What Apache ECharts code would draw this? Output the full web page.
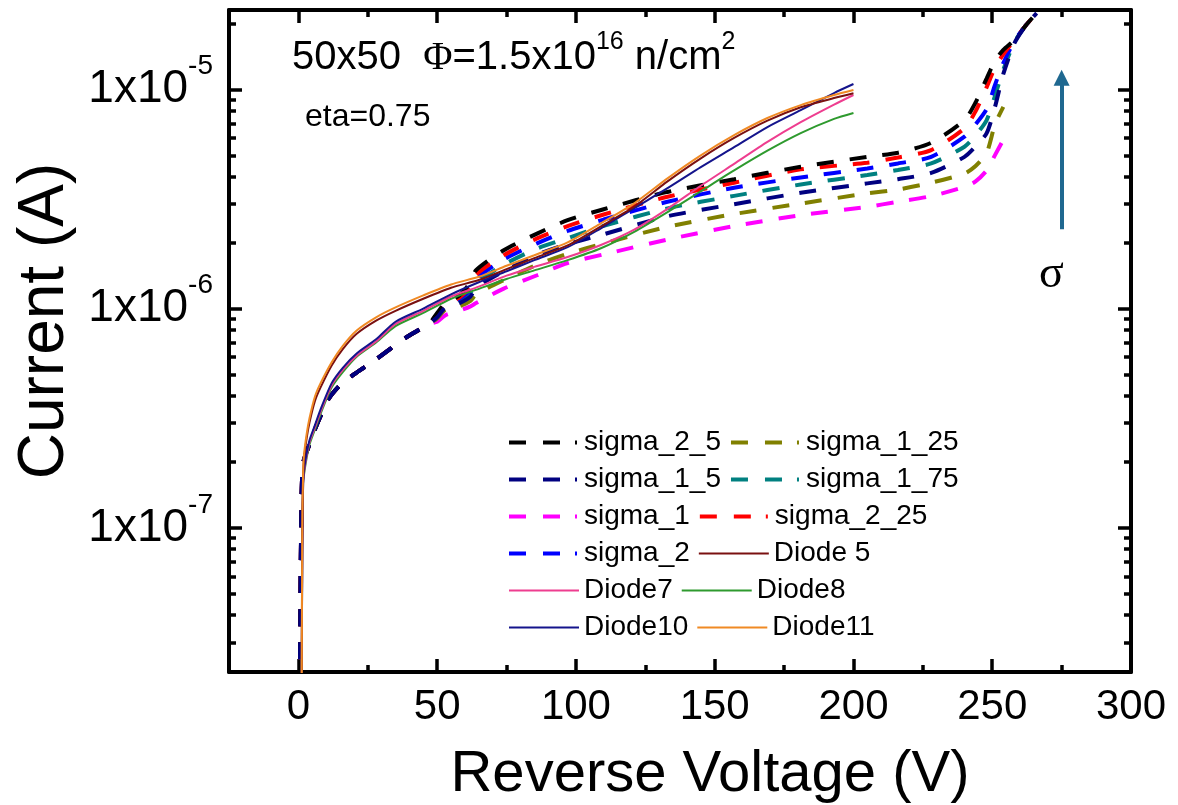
<!DOCTYPE html>
<html>
<head>
<meta charset="utf-8">
<script src="https://cdn.jsdelivr.net/npm/echarts@6/dist/echarts.min.js"></script>
<style>
  html, body { margin: 0; padding: 0; background: #fff; }
  #chart { width: 1178px; height: 805px; }
</style>
</head>
<body>
<div id="chart"></div>
<script>
// voltage grid (V) shared by the simulated sigma curves
const sigmaVoltage = [0.5, 1, 1.5, 2.5, 4, 6, 8, 11, 15, 20, 27, 39, 47, 50, 53, 58, 62, 64, 74, 86, 97, 110, 133, 157, 181, 205, 216, 228, 240, 244, 248, 251, 254, 258, 262, 266];
const sigma_2_5  = [1.78e-8, 1.0e-7, 1.91e-7, 2.14e-7, 2.40e-7, 2.82e-7, 3.24e-7, 3.89e-7, 4.47e-7, 5.01e-7, 5.75e-7, 7.41e-7, 8.51e-7, 9.55e-7, 1.059e-6, 1.148e-6, 1.318e-6, 1.496e-6, 1.845e-6, 2.198e-6, 2.529e-6, 2.838e-6, 3.404e-6, 3.890e-6, 4.436e-6, 4.920e-6, 5.140e-6, 5.702e-6, 7.244e-6, 8.710e-6, 1.122e-5, 1.349e-5, 1.514e-5, 1.679e-5, 1.950e-5, 2.228e-5];
const sigma_2_25 = [1.78e-8, 1.0e-7, 1.91e-7, 2.14e-7, 2.40e-7, 2.82e-7, 3.24e-7, 3.89e-7, 4.47e-7, 5.01e-7, 5.75e-7, 7.41e-7, 8.51e-7, 9.44e-7, 1.047e-6, 1.122e-6, 1.259e-6, 1.429e-6, 1.750e-6, 2.089e-6, 2.377e-6, 2.685e-6, 3.236e-6, 3.750e-6, 4.315e-6, 4.624e-6, 4.887e-6, 5.284e-6, 6.637e-6, 7.943e-6, 1.023e-5, 1.259e-5, 1.445e-5, 1.679e-5, 1.950e-5, 2.228e-5];
const sigma_2    = [1.78e-8, 1.0e-7, 1.91e-7, 2.14e-7, 2.40e-7, 2.82e-7, 3.24e-7, 3.89e-7, 4.47e-7, 5.01e-7, 5.75e-7, 7.41e-7, 8.51e-7, 9.33e-7, 1.035e-6, 1.109e-6, 1.216e-6, 1.365e-6, 1.675e-6, 1.982e-6, 2.259e-6, 2.547e-6, 3.069e-6, 3.556e-6, 3.963e-6, 4.355e-6, 4.592e-6, 4.920e-6, 6.081e-6, 6.918e-6, 8.128e-6, 1.047e-5, 1.318e-5, 1.660e-5, 1.950e-5, 2.228e-5];
const sigma_1_75 = [1.78e-8, 1.0e-7, 1.91e-7, 2.14e-7, 2.40e-7, 2.82e-7, 3.24e-7, 3.89e-7, 4.47e-7, 5.01e-7, 5.75e-7, 7.41e-7, 8.51e-7, 9.23e-7, 1.023e-6, 1.084e-6, 1.175e-6, 1.303e-6, 1.585e-6, 1.879e-6, 2.094e-6, 2.382e-6, 2.864e-6, 3.266e-6, 3.681e-6, 4.064e-6, 4.285e-6, 4.592e-6, 5.470e-6, 6.166e-6, 7.244e-6, 9.333e-6, 1.230e-5, 1.641e-5, 1.950e-5, 2.228e-5];
const sigma_1_5  = [1.78e-8, 1.0e-7, 1.91e-7, 2.14e-7, 2.40e-7, 2.82e-7, 3.24e-7, 3.89e-7, 4.47e-7, 5.01e-7, 5.75e-7, 7.41e-7, 8.51e-7, 9.12e-7, 1.012e-6, 1.059e-6, 1.135e-6, 1.245e-6, 1.479e-6, 1.758e-6, 1.968e-6, 2.183e-6, 2.636e-6, 2.992e-6, 3.373e-6, 3.724e-6, 3.890e-6, 4.159e-6, 4.920e-6, 5.495e-6, 6.310e-6, 8.318e-6, 1.175e-5, 1.622e-5, 1.950e-5, 2.228e-5];
const sigma_1_25 = [1.78e-8, 1.0e-7, 1.91e-7, 2.14e-7, 2.40e-7, 2.82e-7, 3.24e-7, 3.89e-7, 4.47e-7, 5.01e-7, 5.75e-7, 7.41e-7, 8.51e-7, 9.02e-7, 9.89e-7, 1.023e-6, 1.084e-6, 1.161e-6, 1.349e-6, 1.585e-6, 1.778e-6, 1.982e-6, 2.360e-6, 2.698e-6, 3.013e-6, 3.350e-6, 3.491e-6, 3.750e-6, 4.130e-6, 4.467e-6, 5.129e-6, 6.918e-6, 8.318e-6, null, null, null];
const sigma_1    = [1.78e-8, 1.0e-7, 1.91e-7, 2.14e-7, 2.40e-7, 2.82e-7, 3.24e-7, 3.89e-7, 4.47e-7, 5.01e-7, 5.75e-7, 7.41e-7, 8.51e-7, 8.71e-7, 9.33e-7, 9.77e-7, 1.023e-6, 1.059e-6, 1.233e-6, 1.419e-6, 1.614e-6, 1.766e-6, 2.065e-6, 2.377e-6, 2.667e-6, 2.911e-6, 3.069e-6, 3.258e-6, 3.589e-6, 3.802e-6, 4.266e-6, 5.012e-6, 5.888e-6, null, null, null];

// voltage grid (V) shared by the measured diodes
const diodeVoltage = [1.2, 1.4, 1.7, 2, 3, 4, 6, 8, 12, 16, 21, 28, 35, 45, 55, 65, 75, 85, 97, 109, 121, 133, 145, 157, 169, 181, 193, 200];
const diode5  = [1.78e-8, 1.0e-7, 1.70e-7, 2.04e-7, 2.57e-7, 3.02e-7, 3.80e-7, 4.37e-7, 5.50e-7, 6.53e-7, 7.67e-7, 8.81e-7, 9.77e-7, 1.109e-6, 1.245e-6, 1.349e-6, 1.514e-6, 1.698e-6, 1.941e-6, 2.371e-6, 2.917e-6, 3.802e-6, 4.842e-6, 5.998e-6, 7.194e-6, 8.279e-6, 9.120e-6, 9.594e-6];
const diode7  = [1.78e-8, 7.94e-8, 1.585e-7, 1.78e-7, 2.14e-7, 2.455e-7, 2.88e-7, 3.39e-7, 4.47e-7, 5.25e-7, 6.10e-7, 7.08e-7, 8.51e-7, 9.77e-7, 1.135e-6, 1.259e-6, 1.413e-6, 1.549e-6, 1.718e-6, 1.950e-6, 2.291e-6, 2.851e-6, 3.631e-6, 4.571e-6, 5.754e-6, 7.079e-6, 8.511e-6, 9.419e-6];
const diode8  = [1.78e-8, 7.94e-8, 1.585e-7, 1.74e-7, 2.09e-7, 2.40e-7, 2.82e-7, 3.31e-7, 4.37e-7, 5.13e-7, 6.03e-7, 7.00e-7, 8.32e-7, 9.55e-7, 1.109e-6, 1.230e-6, 1.365e-6, 1.493e-6, 1.663e-6, 1.884e-6, 2.239e-6, 2.754e-6, 3.428e-6, 4.266e-6, 5.248e-6, 6.310e-6, 7.328e-6, 7.798e-6];
const diode10 = [1.78e-8, 7.94e-8, 1.585e-7, 1.82e-7, 2.19e-7, 2.51e-7, 2.95e-7, 3.47e-7, 4.57e-7, 5.37e-7, 6.24e-7, 7.24e-7, 8.71e-7, 1.0e-6, 1.161e-6, 1.318e-6, 1.479e-6, 1.663e-6, 1.905e-6, 2.323e-6, 2.871e-6, 3.540e-6, 4.416e-6, 5.445e-6, 6.730e-6, 8.035e-6, 9.616e-6, 1.057e-5];
const diode11 = [1.78e-8, 1.0e-7, 1.78e-7, 2.14e-7, 2.69e-7, 3.16e-7, 3.98e-7, 4.57e-7, 5.69e-7, 6.76e-7, 7.94e-7, 9.12e-7, 1.012e-6, 1.148e-6, 1.288e-6, 1.396e-6, 1.567e-6, 1.750e-6, 2.004e-6, 2.449e-6, 3.020e-6, 3.926e-6, 5.000e-6, 6.180e-6, 7.396e-6, 8.472e-6, 9.419e-6, 9.931e-6];

// axis ticks
const xMajorTicks = [0, 50, 100, 150, 200, 250, 300];
const xMinorTicks = [25, 75, 125, 175, 225, 275];
const yMajorTicks = [1e-7, 1e-6, 1e-5];
const yMinorTicks = [];
[1e-8, 1e-7, 1e-6, 1e-5].forEach(d => {
  for (let k = 2; k <= 9; k++) yMinorTicks.push(k * d);
});

const legendOrder = ['sigma_2_5', 'sigma_1_25', 'sigma_1_5', 'sigma_1_75', 'sigma_1', 'sigma_2_25',
  'sigma_2', 'Diode 5', 'Diode7', 'Diode8', 'Diode10', 'Diode11'];

// arrow for increasing sigma
const arrowVoltage = 275;
const arrowFrom = 2.3e-6;
const arrowTo = 1.13e-5;

(function() {
  const FONT = '"Liberation Sans", Arial, sans-serif';
  const DASH = [17, 16];
  const DASH_DOT = [17, 17, 17, 15, 2, 15];
  const chart = echarts.init(document.getElementById('chart'));

  const pairs = (xs, ys) => xs.map((x, i) => [x, ys[i]]).filter(p => p[1] != null);

  const sigmaSeries = [
    ['sigma_1', sigma_1, '#ff00ff'],
    ['sigma_1_25', sigma_1_25, '#808000'],
    ['sigma_1_75', sigma_1_75, '#008080'],
    ['sigma_2', sigma_2, '#0000ff'],
    ['sigma_2_25', sigma_2_25, '#ff0000'],
    ['sigma_2_5', sigma_2_5, '#000000'],
    ['sigma_1_5', sigma_1_5, '#000080']
  ].map(([name, vals, color]) => ({
    name: name,
    type: 'line',
    data: pairs(sigmaVoltage, vals),
    symbol: 'none',
    smooth: 0.25,
    lineStyle: { color: color, width: 4, type: DASH },
    itemStyle: { color: color }
  }));

  const diodeSeries = [
    ['Diode8', diode8, '#2e9a2e'],
    ['Diode7', diode7, '#ee3d8f'],
    ['Diode10', diode10, '#14148c'],
    ['Diode 5', diode5, '#7a1010'],
    ['Diode11', diode11, '#f08a24']
  ].map(([name, vals, color]) => ({
    name: name,
    type: 'line',
    data: pairs(diodeVoltage, vals),
    symbol: 'none',
    smooth: 0.25,
    lineStyle: { color: color, width: 2 },
    itemStyle: { color: color }
  }));

  // arrow annotation hangs on the first series
  sigmaSeries[0].markLine = {
    silent: true,
    symbol: ['none', 'triangle'],
    symbolSize: [16, 16],
    label: { show: false },
    lineStyle: { color: '#1f6890', width: 4, type: 'solid' },
    data: [[{ coord: [arrowVoltage, arrowFrom] }, { coord: [arrowVoltage, arrowTo] }]]
  };

  const frameLine = { show: true, onZero: false, lineStyle: { color: '#000', width: 4 } };
  const noLine = { show: false, onZero: false };

  const xAxisBase = (position, ticks, len, withLabels, line) => ({
    type: 'value',
    position: position,
    min: -25,
    max: 300,
    axisLine: line,
    axisTick: { show: true, inside: true, length: len, customValues: ticks, lineStyle: { width: 3.5, color: '#000' } },
    axisLabel: withLabels
      ? { show: true, customValues: ticks, fontSize: 42, fontFamily: FONT, color: '#000', margin: 14 }
      : { show: false },
    splitLine: { show: false }
  });

  const yAxisBase = (position, ticks, len, withLabels, line) => ({
    type: 'log',
    logBase: 10,
    position: position,
    min: 2.2e-8,
    max: 2.3e-5,
    axisLine: line,
    axisTick: { show: true, inside: true, length: len, customValues: ticks, lineStyle: { width: 3.5, color: '#000' } },
    axisLabel: withLabels
      ? {
          show: true,
          customValues: ticks,
          margin: 16,
          formatter: v => '{b|1x10}{s|' + Math.round(Math.log10(v)) + '}',
          rich: {
            b: { fontSize: 46, fontFamily: FONT, color: '#000', lineHeight: 74 },
            s: { fontSize: 28, fontFamily: FONT, color: '#000', lineHeight: 28, verticalAlign: 'top' }
          }
        }
      : { show: false },
    splitLine: { show: false },
    minorSplitLine: { show: false }
  });

  const xMain = xAxisBase('bottom', xMajorTicks, 13, true, frameLine);
  xMain.name = 'Reverse Voltage (V)';
  xMain.nameLocation = 'middle';
  xMain.nameGap = 74;
  xMain.nameTextStyle = { fontSize: 58, fontFamily: FONT, color: '#000', padding: [0, 0, 0, 60] };

  const yMain = yAxisBase('left', yMajorTicks, 13, true, frameLine);
  yMain.name = 'Current (A)';
  yMain.nameLocation = 'middle';
  yMain.nameGap = 148;
  yMain.nameTextStyle = { fontSize: 64, fontFamily: FONT, color: '#000', padding: [0, 0, 0, 40] };

  const option = {
    animation: false,
    backgroundColor: '#fff',
    grid: { left: 229, right: 47, top: 10, bottom: 133, outerBoundsMode: 'none' },
    xAxis: [
      xMain,
      xAxisBase('bottom', xMinorTicks, 7, false, noLine),
      xAxisBase('top', xMajorTicks, 13, false, frameLine),
      xAxisBase('top', xMinorTicks, 7, false, noLine)
    ],
    yAxis: [
      yMain,
      yAxisBase('left', yMinorTicks, 7, false, noLine),
      yAxisBase('right', yMajorTicks, 13, false, frameLine),
      yAxisBase('right', yMinorTicks, 7, false, noLine)
    ],
    legend: {
      data: legendOrder.map(name => name.indexOf('sigma') === 0
        ? { name: name, lineStyle: { type: DASH_DOT, width: 4 } }
        : { name: name, lineStyle: { width: 2 } }),
      left: 507,
      top: 428,
      width: 460,
      padding: 0,
      itemWidth: 70,
      itemHeight: 14,
      itemGap: 8,
      selectedMode: false,
      itemStyle: { opacity: 0 },
      textStyle: { fontSize: 28, fontFamily: FONT, color: '#000', lineHeight: 29 }
    },
    graphic: [
      {
        type: 'text',
        left: 292,
        top: 30,
        style: {
          text: '50x50  {p|Φ}=1.5x10{s|16} n/cm{s|2}',
          fill: '#000',
          font: '40px ' + FONT,
          rich: {
            p: { fontSize: 40, fontFamily: '"Liberation Serif", serif', lineHeight: 56 },
            s: { fontSize: 25, fontFamily: FONT, lineHeight: 25, verticalAlign: 'top' }
          }
        }
      },
      {
        type: 'text',
        left: 305,
        top: 101,
        style: { text: 'eta=0.75', fill: '#000', font: '32px ' + FONT }
      },
      {
        type: 'text',
        left: 1039,
        top: 252,
        style: { text: 'σ', fill: '#000', font: '46px "Liberation Serif", serif' }
      }
    ],
    series: sigmaSeries.concat(diodeSeries)
  };

  chart.setOption(option);
  window.addEventListener('resize', () => chart.resize());
})();
</script>
</body>
</html>
